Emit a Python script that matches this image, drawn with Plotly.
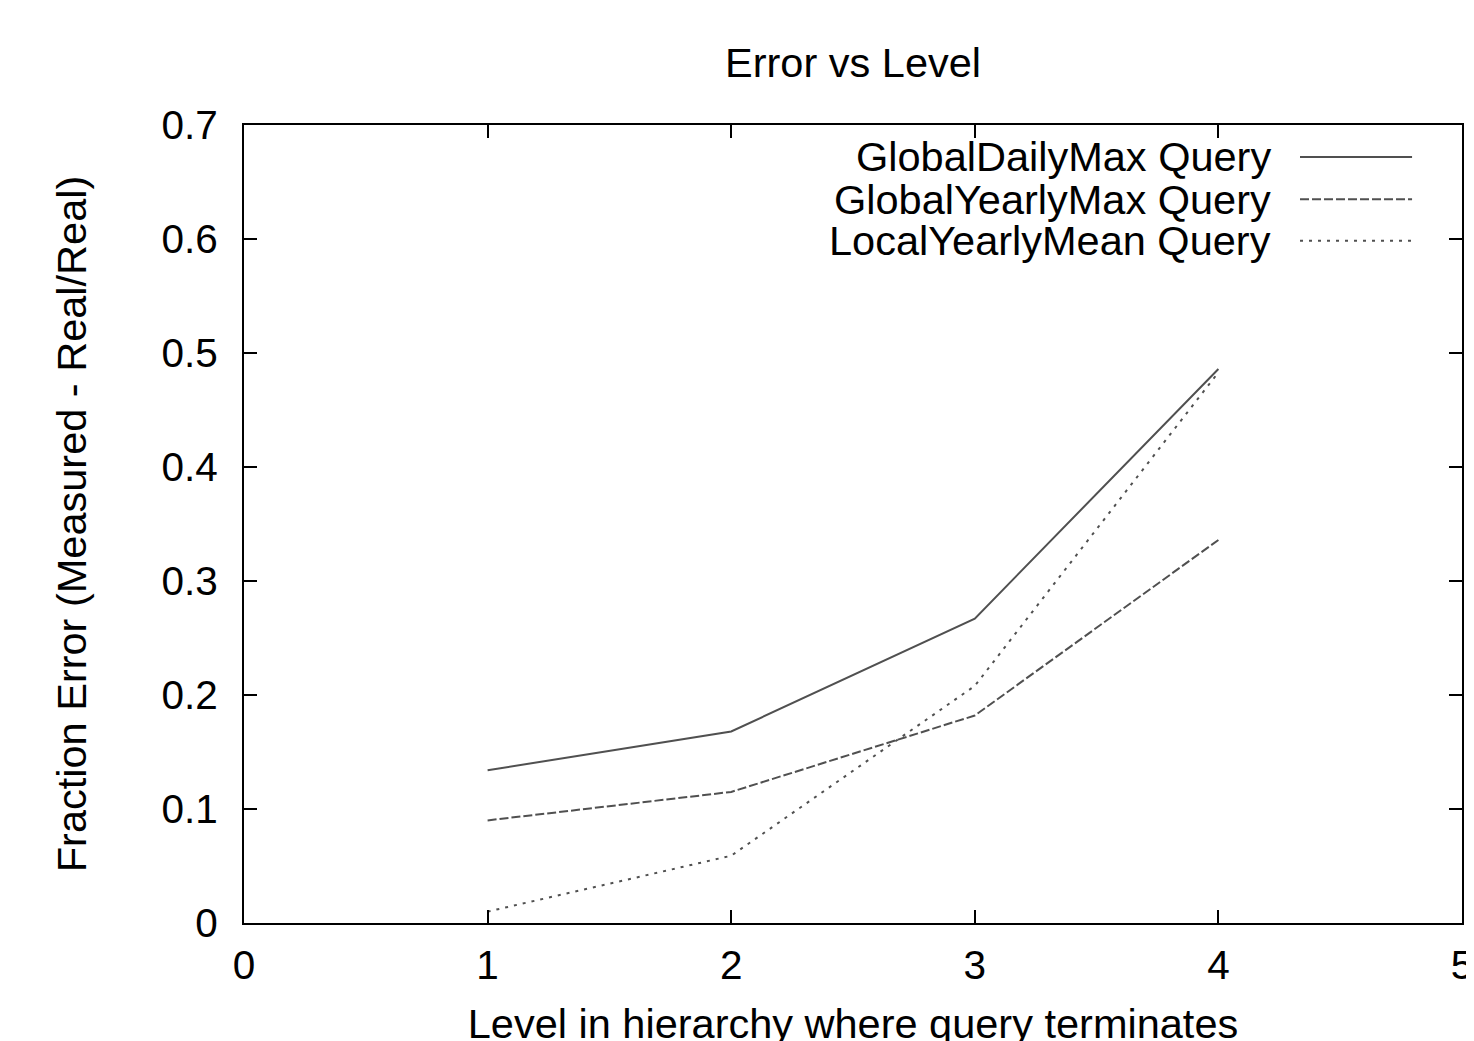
import plotly.graph_objects as go

levels = [1, 2, 3, 4]
global_daily_max = [0.134, 0.168, 0.267, 0.486]
global_yearly_max = [0.090, 0.115, 0.182, 0.336]
local_yearly_mean = [0.010, 0.059, 0.208, 0.483]
series_names = ["GlobalDailyMax Query", "GlobalYearlyMax Query", "LocalYearlyMean Query"]
x_ticks = [0, 1, 2, 3, 4, 5]
y_ticks = [0, 0.1, 0.2, 0.3, 0.4, 0.5, 0.6, 0.7]
y_tick_labels = ["0", "0.1", "0.2", "0.3", "0.4", "0.5", "0.6", "0.7"]

FONT = "Liberation Sans, Arial, Helvetica, sans-serif"
LINE_COLOR = "#505050"
dashes = ["solid", "9px,3px", "3px,6px"]
series = [global_daily_max, global_yearly_max, local_yearly_mean]

fig = go.Figure()
for name, vals, d in zip(series_names, series, dashes):
    fig.add_trace(go.Scatter(x=levels, y=vals, mode="lines", name=name,
                             line=dict(color=LINE_COLOR, width=2, dash=d),
                             showlegend=False))

# gnuplot-style legend: right-aligned text, sample line to the right
legend_rows = [0.960, 0.907, 0.855]
for name, d, yy in zip(series_names, dashes, legend_rows):
    fig.add_annotation(x=0.845, y=yy, xref="paper", yref="paper", text=name,
                       showarrow=False, xanchor="right", yanchor="middle",
                       font=dict(family=FONT, size=41.5, color="black"))
    fig.add_shape(type="line", xref="paper", yref="paper", x0=0.867, x1=0.959,
                  y0=yy, y1=yy, line=dict(color=LINE_COLOR, width=2, dash=d))

axis_common = dict(showline=True, linecolor="black", linewidth=2, mirror="ticks",
                   ticks="inside", ticklen=13, tickwidth=2, tickcolor="black",
                   showgrid=False, zeroline=False,
                   tickfont=dict(family=FONT, size=40.5, color="black"))

fig.update_layout(
    width=1474, height=1041,
    paper_bgcolor="white", plot_bgcolor="white",
    margin=dict(l=236, r=20, t=117, b=126, autoexpand=False),
    title=dict(text="Error vs Level", x=0.5733, xanchor="center", y=0.948, yanchor="middle",
               font=dict(family=FONT, size=41.5, color="black")),
    xaxis=dict(range=[0, 5], tickvals=x_ticks, ticktext=[str(v) for v in x_ticks],
               title=dict(text="Level in hierarchy where query terminates", standoff=22,
                          font=dict(family=FONT, size=41.5, color="black")),
               ticklabelstandoff=5, **axis_common),
    yaxis=dict(range=[0, 0.7], tickvals=y_ticks, ticktext=y_tick_labels,
               title=dict(text="Fraction Error (Measured - Real/Real)", standoff=62,
                          font=dict(family=FONT, size=41.5, color="black")),
               ticklabelstandoff=16, **axis_common),
)

fig.write_html("out.html")
